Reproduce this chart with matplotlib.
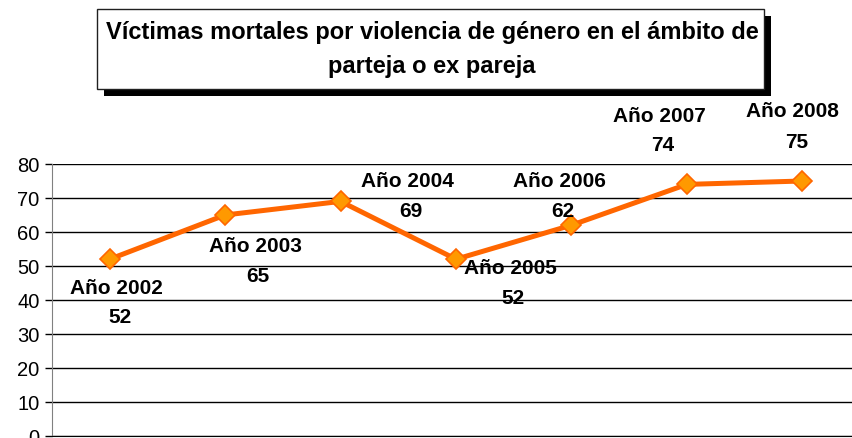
import matplotlib.pyplot as plt
from matplotlib.patches import Rectangle

years = ["Año 2002", "Año 2003", "Año 2004", "Año 2005", "Año 2006", "Año 2007", "Año 2008"]
victims = [52, 65, 69, 52, 62, 74, 75]
yticks = [0, 10, 20, 30, 40, 50, 60, 70, 80]

# label offsets (pixels) relative to each point: (dx, dy) for year line
label_offsets = [(7, -28), (30, -31), (67, 21), (54, -8), (-12, 45), (-27, 69), (-10, 70)]
value_offsets = [(10, -57), (33, -61), (70, -9), (57, -38), (-9, 15), (-24, 40), (-6, 39)]

W, H = 853, 439
fig = plt.figure(figsize=(W / 100, H / 100), dpi=100)
plt.rcParams['font.family'] = ['Liberation Sans', 'DejaVu Sans']

# axes: left spine at x=52, y=0 at 437, y=80 at 165, right edge cut off at ~860
ax = fig.add_axes([52 / W, (H - 437) / H, (860 - 52) / W, 272 / H])
x = list(range(len(years)))
ax.plot(x, victims, color="#FF6600", lw=3.6, marker="D", markersize=10,
        markerfacecolor="#FF9900", markeredgecolor="#FF6600", markeredgewidth=1.2,
        zorder=3, clip_on=False)

ax.set_xlim(-0.5, len(years) - 0.5)
ax.set_ylim(0, 80)
ax.set_yticks(yticks)
ax.set_xticks([])
ax.grid(axis="y", color="black", lw=1)
ax.set_axisbelow(True)
for s in ["top", "right"]:
    ax.spines[s].set_visible(False)
ax.spines["left"].set_color("#808080")
ax.spines["bottom"].set_color("black")
ax.tick_params(axis="y", length=5, width=1, color="black", labelsize=14.5, pad=4)

for i, (yr, v) in enumerate(zip(years, victims)):
    ax.annotate(yr, (i, v), xytext=label_offsets[i], textcoords="offset pixels",
                ha="center", va="center", fontsize=15, fontweight="bold")
    ax.annotate(str(v), (i, v), xytext=value_offsets[i], textcoords="offset pixels",
                ha="center", va="center", fontsize=15, fontweight="bold")

# title box with shadow
def box(x0, y0, x1, y1, **kw):
    return Rectangle((x0 / W, 1 - y1 / H), (x1 - x0) / W, (y1 - y0) / H,
                     transform=fig.transFigure, **kw)

fig.add_artist(box(104, 17, 771, 97, facecolor="black", edgecolor="none"))
fig.add_artist(box(97, 10, 764, 90, facecolor="white", edgecolor="#202020", lw=1))
fig.text(432 / W, 1 - 33 / H, "Víctimas mortales por violencia de género en el ámbito de",
         ha="center", va="center", fontsize=17, fontweight="bold")
fig.text(432 / W, 1 - 67 / H, "parteja o ex pareja",
         ha="center", va="center", fontsize=17, fontweight="bold")

fig.savefig("out.png", dpi=100)
